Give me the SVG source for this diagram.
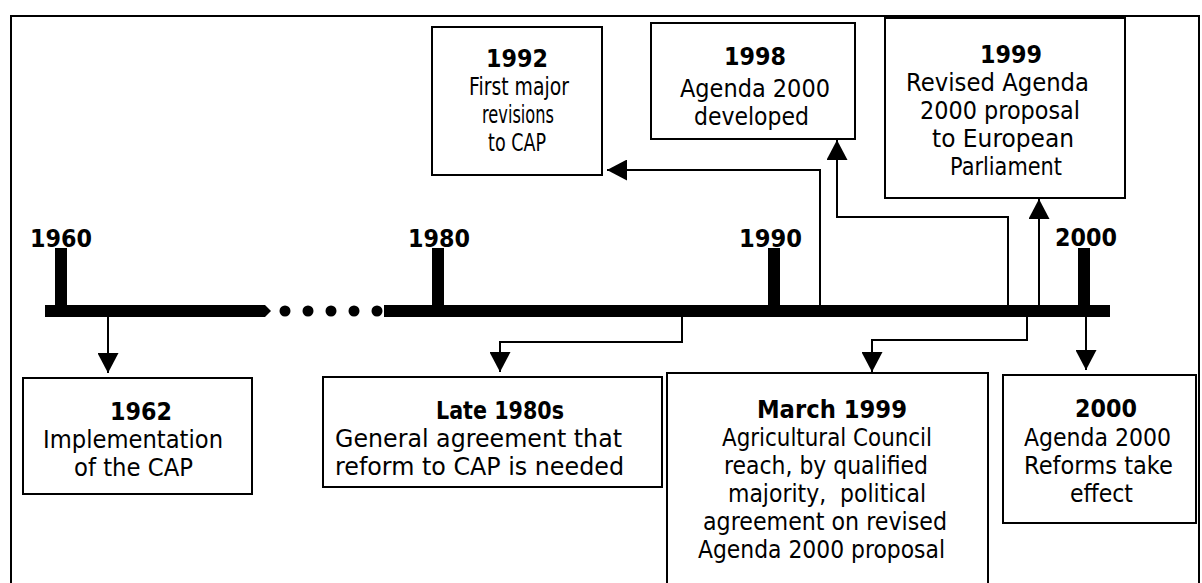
<svg xmlns="http://www.w3.org/2000/svg" width="1202" height="583" viewBox="0 0 1202 583">
<defs>
<style>
.frame{fill:none;stroke:#000;stroke-width:2}
.box{fill:#fff;stroke:#000;stroke-width:2}
.conn{fill:none;stroke:#000;stroke-width:2}
.bar{fill:#000}
.t{font-family:"DejaVu Sans",Verdana,sans-serif;font-size:25px;fill:#000}
.b{font-weight:bold}
</style>
<marker id="ah" markerUnits="userSpaceOnUse" markerWidth="20" markerHeight="21" refX="20" refY="10.5" orient="auto">
<path d="M0,0 L20,10.5 L0,21 Z" fill="#000"/>
</marker>
</defs>
<rect class="frame" x="11" y="16" width="1188" height="580"/>

<g id="timeline">
<path class="bar" d="M45,305 H265 L271,311 L265,317 H45 Z"/>
<circle class="bar" cx="285" cy="311" r="5.5"/>
<circle class="bar" cx="308" cy="311" r="5.5"/>
<circle class="bar" cx="331" cy="311" r="5.5"/>
<circle class="bar" cx="354" cy="311" r="5.5"/>
<circle class="bar" cx="377" cy="311" r="5.5"/>
<rect class="bar" x="384" y="305" width="726" height="12"/>
<rect class="bar" x="55" y="248" width="12" height="58"/>
<rect class="bar" x="432" y="248" width="12" height="58"/>
<rect class="bar" x="768" y="248" width="12" height="58"/>
<rect class="bar" x="1078" y="248" width="12" height="58"/>
<text class="t b" x="30" y="247" textLength="62" lengthAdjust="spacingAndGlyphs">1960</text>
<text class="t b" x="408" y="247" textLength="62" lengthAdjust="spacingAndGlyphs">1980</text>
<text class="t b" x="739" y="247" textLength="63" lengthAdjust="spacingAndGlyphs">1990</text>
<text class="t b" x="1055" y="246" textLength="62" lengthAdjust="spacingAndGlyphs">2000</text>
</g>

<g id="connectors">
<path class="conn" d="M108,317 V373" marker-end="url(#ah)"/>
<path class="conn" d="M682,317 V342 H500 V372" marker-end="url(#ah)"/>
<path class="conn" d="M1027,317 V340 H872 V372" marker-end="url(#ah)"/>
<path class="conn" d="M1086,317 V370" marker-end="url(#ah)"/>
<path class="conn" d="M820,305 V170 H607" marker-end="url(#ah)"/>
<path class="conn" d="M1008,305 V217 H837 V140" marker-end="url(#ah)"/>
<path class="conn" d="M1039,305 V199" marker-end="url(#ah)"/>
</g>

<g id="n1992">
<rect class="box" x="432" y="27" width="170" height="148"/>
<text class="t b" x="486" y="67" textLength="62" lengthAdjust="spacingAndGlyphs">1992</text>
<text class="t" x="469" y="95" textLength="100" lengthAdjust="spacingAndGlyphs">First major</text>
<text class="t" x="482" y="123" textLength="72" lengthAdjust="spacingAndGlyphs">revisions</text>
<text class="t" x="488" y="151" textLength="58" lengthAdjust="spacingAndGlyphs">to CAP</text>
</g>

<g id="n1998">
<rect class="box" x="651" y="23" width="204" height="116"/>
<text class="t b" x="724" y="65" textLength="62" lengthAdjust="spacingAndGlyphs">1998</text>
<text class="t" x="680" y="97" textLength="150" lengthAdjust="spacingAndGlyphs">Agenda 2000</text>
<text class="t" x="694" y="125" textLength="115" lengthAdjust="spacingAndGlyphs">developed</text>
</g>

<g id="n1999">
<rect class="box" x="885" y="18" width="240" height="180"/>
<text class="t b" x="980" y="63" textLength="62" lengthAdjust="spacingAndGlyphs">1999</text>
<text class="t" x="906" y="91" textLength="183" lengthAdjust="spacingAndGlyphs">Revised Agenda</text>
<text class="t" x="920" y="119" textLength="160" lengthAdjust="spacingAndGlyphs">2000 proposal</text>
<text class="t" x="932" y="147" textLength="142" lengthAdjust="spacingAndGlyphs">to European</text>
<text class="t" x="950" y="175" textLength="112" lengthAdjust="spacingAndGlyphs">Parliament</text>
</g>

<g id="n1962">
<rect class="box" x="23" y="378" width="229" height="116"/>
<text class="t b" x="110" y="420" textLength="62" lengthAdjust="spacingAndGlyphs">1962</text>
<text class="t" x="43" y="448" textLength="180" lengthAdjust="spacingAndGlyphs">Implementation</text>
<text class="t" x="74" y="476" textLength="119" lengthAdjust="spacingAndGlyphs">of the CAP</text>
</g>

<g id="nLate1980s">
<rect class="box" x="323" y="377" width="339" height="110"/>
<text class="t b" x="436" y="419" textLength="128" lengthAdjust="spacingAndGlyphs">Late 1980s</text>
<text class="t" x="335" y="447" textLength="287" lengthAdjust="spacingAndGlyphs">General agreement that</text>
<text class="t" x="335" y="475" textLength="289" lengthAdjust="spacingAndGlyphs">reform to CAP is needed</text>
</g>

<g id="nMarch1999">
<rect class="box" x="667" y="373" width="321" height="230"/>
<text class="t b" x="757" y="418" textLength="150" lengthAdjust="spacingAndGlyphs">March 1999</text>
<text class="t" x="722" y="446" textLength="210" lengthAdjust="spacingAndGlyphs">Agricultural Council</text>
<text class="t" x="724" y="474" textLength="204" lengthAdjust="spacingAndGlyphs">reach, by qualified</text>
<text class="t" x="728" y="502" textLength="198" lengthAdjust="spacingAndGlyphs" xml:space="preserve" style="white-space:pre">majority,  political</text>
<text class="t" x="703" y="530" textLength="244" lengthAdjust="spacingAndGlyphs">agreement on revised</text>
<text class="t" x="698" y="558" textLength="247" lengthAdjust="spacingAndGlyphs">Agenda 2000 proposal</text>
</g>

<g id="n2000">
<rect class="box" x="1003" y="375" width="193" height="148"/>
<text class="t b" x="1075" y="417" textLength="62" lengthAdjust="spacingAndGlyphs">2000</text>
<text class="t" x="1024" y="446" textLength="147" lengthAdjust="spacingAndGlyphs">Agenda 2000</text>
<text class="t" x="1024" y="474" textLength="149" lengthAdjust="spacingAndGlyphs">Reforms take</text>
<text class="t" x="1070" y="502" textLength="63" lengthAdjust="spacingAndGlyphs">effect</text>
</g>
</svg>
